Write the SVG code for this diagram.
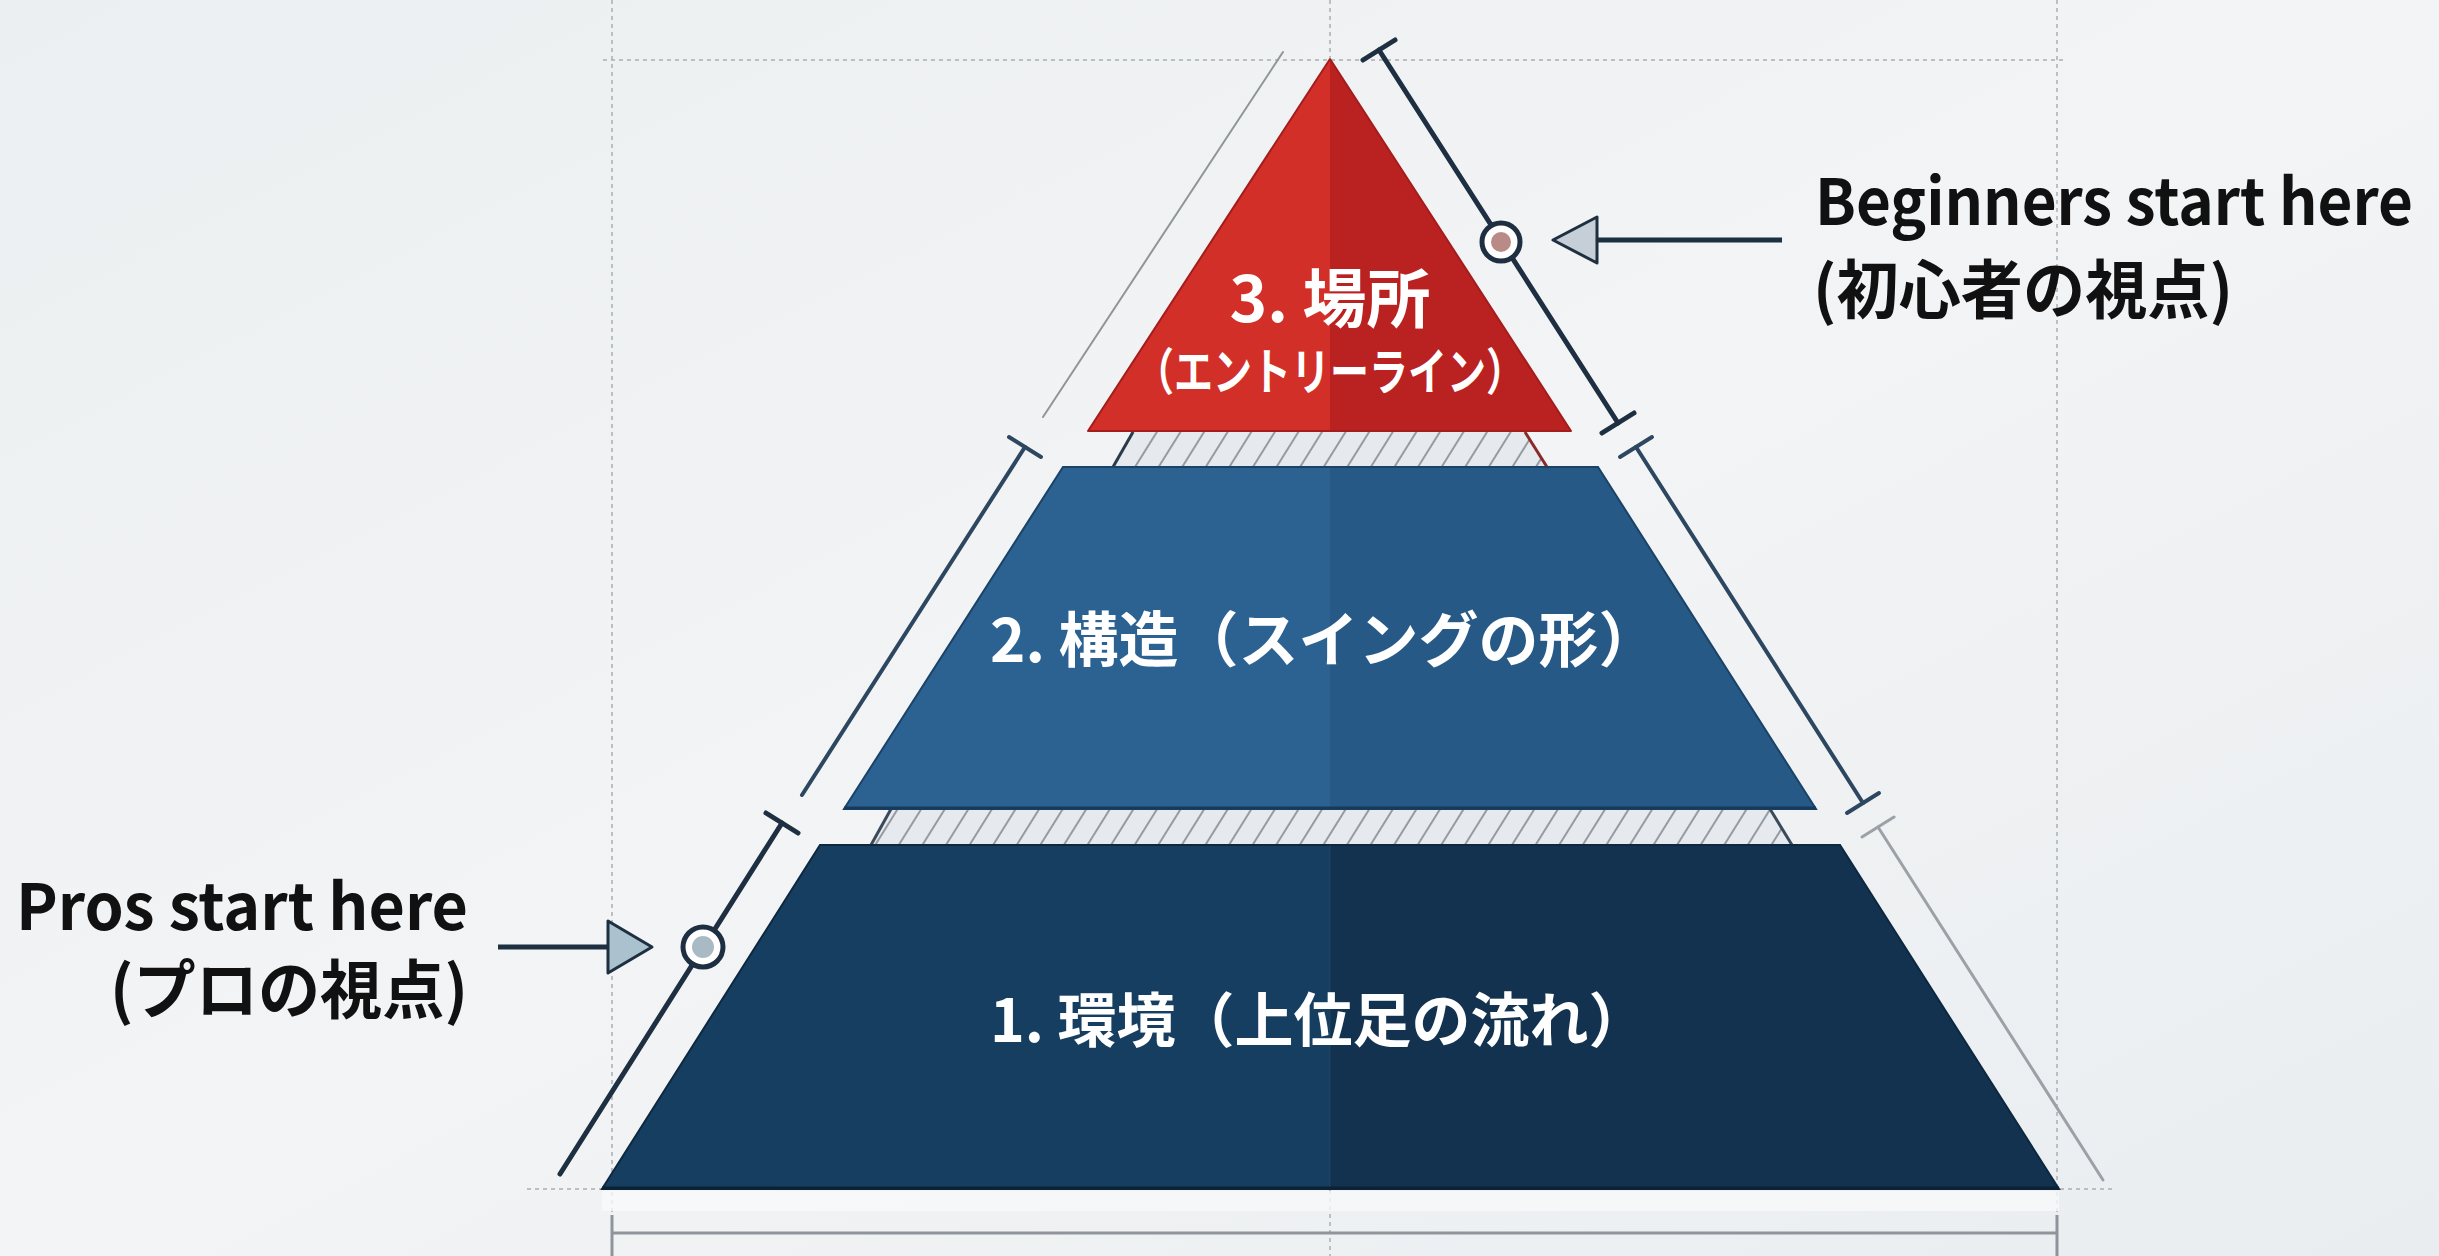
<svg xmlns="http://www.w3.org/2000/svg" width="2439" height="1256" viewBox="0 0 2439 1256">
<defs>
  <linearGradient id="bg" x1="0" y1="0" x2="1" y2="1">
    <stop offset="0" stop-color="#eceff1"/>
    <stop offset="0.5" stop-color="#f2f4f5"/>
    <stop offset="1" stop-color="#eaedf0"/>
  </linearGradient>
  <pattern id="hatch" width="20" height="10" patternUnits="userSpaceOnUse" patternTransform="rotate(32)">
    <rect width="20" height="10" fill="#e6eaee"/>
    <line x1="10" y1="0" x2="10" y2="10" stroke="#7f878f" stroke-width="1.6"/>
  </pattern>
  <style>
    .guide{fill:none;stroke:#a9aeb3;stroke-width:1.5;stroke-dasharray:4 4}
    .dimD{fill:none;stroke:#1d2f41;stroke-width:5;stroke-linecap:round}
    .dimM{fill:none;stroke:#2d4761;stroke-width:4;stroke-linecap:round}
    .dimL{fill:none;stroke:#9ba1a7;stroke-width:3;stroke-linecap:round}
    .dimT{fill:none;stroke:#8f959b;stroke-width:2;stroke-linecap:round}
    .arrowLine{fill:none;stroke:#1d2f41;stroke-width:5}
    .head{stroke:#1d2f41;stroke-width:3;stroke-linejoin:round}
    .ring{fill:#ffffff;stroke:#1d2f41;stroke-width:5}
    .in{font-family:"Noto Sans CJK JP","Noto Sans",sans-serif;font-weight:700;fill:#ffffff}
    .lbl{font-family:"Noto Sans CJK JP","Noto Sans",sans-serif;font-weight:700;fill:#111111;font-size:64px}
    .hedge{fill:none;stroke-width:3}
  </style>
</defs>
<rect x="0" y="0" width="2439" height="1256" fill="url(#bg)"/>

<g id="guides">
  <line class="guide" x1="612" y1="0" x2="612" y2="1256"/>
  <line class="guide" x1="2057" y1="0" x2="2057" y2="1256"/>
  <line class="guide" x1="603" y1="60" x2="2065" y2="60"/>
  <line class="guide" x1="1330" y1="0" x2="1330" y2="58"/>
  <line class="guide" x1="1330" y1="1190" x2="1330" y2="1256"/>
  <line class="guide" x1="527" y1="1189" x2="602" y2="1189"/>
  <line class="guide" x1="2060" y1="1189" x2="2115" y2="1189"/>
  <rect x="602" y="1191" width="1457" height="20" fill="#f8f9fa" opacity="0.8"/>
  <line x1="612" y1="1233" x2="2057" y2="1233" stroke="#8f959b" stroke-width="3"/>
  <line x1="612" y1="1215" x2="612" y2="1256" stroke="#8f959b" stroke-width="3"/>
  <line x1="2057" y1="1215" x2="2057" y2="1256" stroke="#8f959b" stroke-width="3"/>
</g>

<g id="hatch-bands">
  <polygon points="1133,432 1525,432 1547,467 1113,467" fill="url(#hatch)"/>
  <line class="hedge" x1="1133" y1="432" x2="1113" y2="467" stroke="#2a3a4a"/>
  <line class="hedge" x1="1525" y1="432" x2="1547" y2="467" stroke="#8a2a2a"/>
  <polygon points="891,809 1770,809 1792,845 871,845" fill="url(#hatch)"/>
  <line class="hedge" x1="891" y1="809" x2="871" y2="845" stroke="#3a4a5a"/>
  <line class="hedge" x1="1770" y1="809" x2="1792" y2="845" stroke="#3a4a5a"/>
</g>

<g id="node-3">
  <polygon points="1330,59 1330,431 1088,431" fill="#d12f28"/>
  <polygon points="1330,59 1571,431 1330,431" fill="#ba2222"/>
  <polygon points="1330,59 1571,431 1088,431" fill="none" stroke="#a51c1c" stroke-width="2" stroke-linejoin="round"/>
  <text class="in" x="1330" y="322" font-size="64" text-anchor="middle">3. 場所</text>
  <text class="in" x="1330" y="390" font-size="50" text-anchor="middle" textLength="390" lengthAdjust="spacingAndGlyphs">（エントリーライン）</text>
</g>

<g id="node-2">
  <polygon points="1063,467 1330,467 1330,809 844,809" fill="#2b6292"/>
  <polygon points="1330,467 1598,467 1816,809 1330,809" fill="#265986"/>
  <polygon points="1063,467 1598,467 1816,809 844,809" fill="none" stroke="#1b4368" stroke-width="2"/>
  <line x1="844" y1="808" x2="1816" y2="808" stroke="#173a5a" stroke-width="3"/>
  <text class="in" x="990" y="662" font-size="60">2. 構造（スイングの形）</text>
</g>

<g id="node-1">
  <polygon points="820,845 1330,845 1330,1189 602,1189" fill="#163e60"/>
  <polygon points="1330,845 1840,845 2059,1189 1330,1189" fill="#12324f"/>
  <polygon points="820,845 1840,845 2059,1189 602,1189" fill="none" stroke="#0e2840" stroke-width="2"/>
  <line x1="1330" y1="845" x2="1330" y2="1189" stroke="#2a4d6c" stroke-width="1" opacity="0.6"/>
  <line x1="602" y1="1188" x2="2059" y2="1188" stroke="#0b2236" stroke-width="3"/>
  <text class="in" x="990" y="1042" font-size="59">1. 環境（上位足の流れ）</text>
</g>

<g id="connectors">
  <line class="dimD" x1="1379" y1="50" x2="1618" y2="423"/>
  <line class="dimD" x1="1363" y1="60" x2="1395" y2="40"/>
  <line class="dimD" x1="1602" y1="433" x2="1634" y2="413"/>
  <line class="dimM" x1="1636" y1="447" x2="1863" y2="803"/>
  <line class="dimM" x1="1620" y1="457" x2="1652" y2="437"/>
  <line class="dimM" x1="1847" y1="813" x2="1879" y2="793"/>
  <line class="dimL" x1="1878" y1="827" x2="2103" y2="1180"/>
  <line class="dimL" x1="1862" y1="837" x2="1894" y2="817"/>
  <line class="dimT" x1="1283" y1="52" x2="1043" y2="417"/>
  <line class="dimM" x1="1025" y1="447" x2="802" y2="795"/>
  <line class="dimM" x1="1009" y1="437" x2="1041" y2="457"/>
  <line class="dimD" x1="782" y1="823" x2="560" y2="1174"/>
  <line class="dimD" x1="766" y1="813" x2="798" y2="833"/>
  <circle class="ring" cx="1501" cy="242" r="19"/>
  <circle cx="1501" cy="242" r="10" fill="#b98a86"/>
  <circle class="ring" cx="703" cy="947" r="20"/>
  <circle cx="703" cy="947" r="11" fill="#a8bbc5"/>
  <line class="arrowLine" x1="1782" y1="240" x2="1597" y2="240"/>
  <polygon class="head" points="1553,240 1597,217 1597,263" fill="#c6cfd7"/>
  <line class="arrowLine" x1="498" y1="947" x2="608" y2="947"/>
  <polygon class="head" points="652,947 608,921 608,973" fill="#a9c2ce"/>
</g>

<g id="label-beginners">
  <text class="lbl" x="1815" y="225" textLength="598" lengthAdjust="spacingAndGlyphs">Beginners start here</text>
  <text class="lbl" x="1813" y="313" textLength="420" lengthAdjust="spacingAndGlyphs">(初心者の視点)</text>
</g>

<g id="label-pros">
  <text class="lbl" x="468" y="930" text-anchor="end" textLength="452" lengthAdjust="spacingAndGlyphs">Pros start here</text>
  <text class="lbl" x="468" y="1013" text-anchor="end" textLength="358" lengthAdjust="spacingAndGlyphs">(プロの視点)</text>
</g>
</svg>
